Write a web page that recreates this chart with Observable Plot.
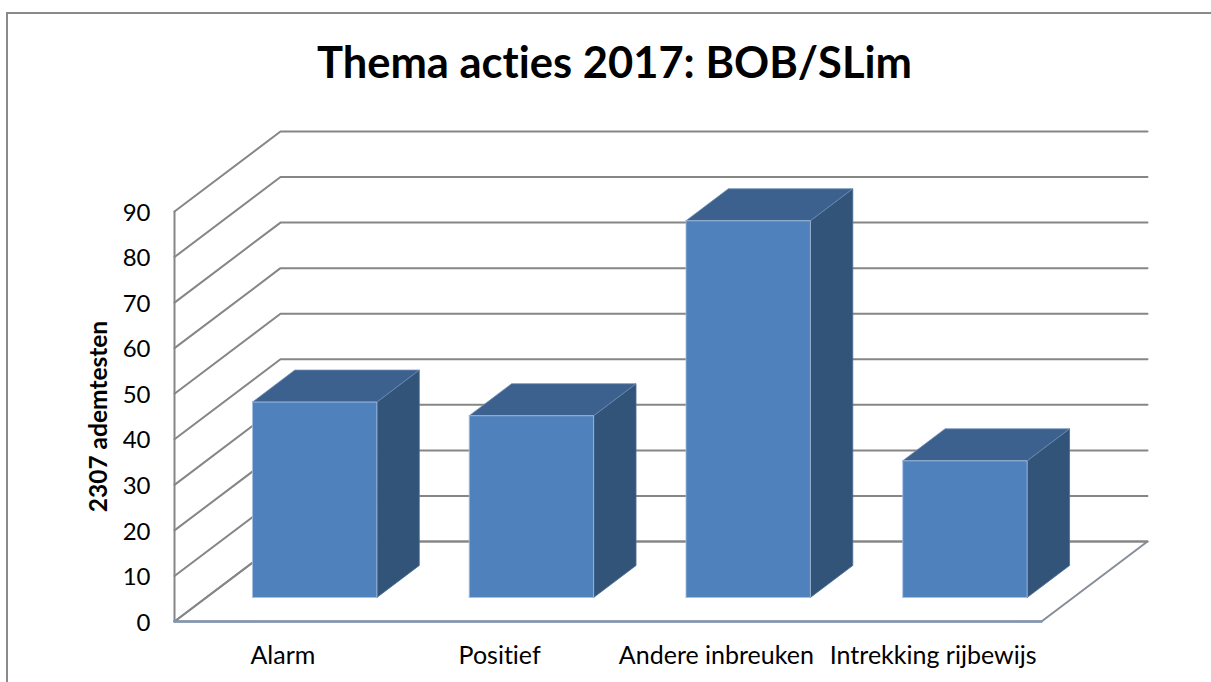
<!DOCTYPE html>
<html><head><meta charset="utf-8">
<script src="https://cdn.jsdelivr.net/npm/d3@7"></script>
<script src="https://cdn.jsdelivr.net/npm/@observablehq/plot@0.6"></script>
<style>
html,body{margin:0;padding:0;background:#fff;overflow:hidden;height:682px}
#frame{position:absolute;left:6px;top:12px;width:1205px;height:720px;border-left:2px solid #8a8a8a;border-top:2px solid #8a8a8a;box-sizing:border-box}
#chart{position:absolute;left:0;top:0;width:1211px}
h1{margin:0;height:100px;box-sizing:border-box;padding-top:31px;font:bold 43.5px/60px Lato,sans-serif;font-variant-ligatures:none;text-align:center;color:#000;padding-left:18px}
svg{display:block}
svg text{font-variant-ligatures:none}
</style></head><body>
<div id="frame"></div>
<div id="chart"></div>
<script>
const titleText = "Thema acties 2017: BOB/SLim";
const yLabel = "2307 ademtesten";
const categories = ["Alarm", "Positief", "Andere inbreuken", "Intrekking rijbewijs"];
const values = [42.9, 39.9, 82.7, 30];
const yTicks = [0, 10, 20, 30, 40, 50, 60, 70, 80, 90];

// oblique projection of the depth axis, in data units
const depthX = 0.489, depthY = 17.56;
const barHalf = 0.287, depthFront = 0.3, depthBack = 0.7;

const at = (x, y, d) => ({x: x + d * depthX, y: y + d * depthY});

const grid = yTicks.flatMap(v => [
  {id: v, ...at(0, v, 0)},
  {id: v, ...at(0, v, 1)},
  {id: v, ...at(categories.length, v, 1)}
]);
const wall = [at(0, 0, 0), at(0, 90, 0)];
const floor = [at(0, 0, 0), at(0, 0, 1), at(categories.length, 0, 1), at(categories.length, 0, 0), at(0, 0, 0)];

const face = (fn) => values.flatMap((v, i) => fn(i + 0.5 - barHalf, i + 0.5 + barHalf, v).map(p => ({id: categories[i], ...p})));
const fronts = face((l, r, v) => [at(l,0,depthFront), at(r,0,depthFront), at(r,v,depthFront), at(l,v,depthFront), at(l,0,depthFront)]);
const sides  = face((l, r, v) => [at(r,0,depthFront), at(r,0,depthBack), at(r,v,depthBack), at(r,v,depthFront), at(r,0,depthFront)]);
const tops   = face((l, r, v) => [at(l,v,depthFront), at(r,v,depthFront), at(r,v,depthBack), at(l,v,depthBack), at(l,v,depthFront)]);

const h = document.createElement("h1");
h.textContent = titleText;
const fontFamily = "Lato, sans-serif";
const plot = Plot.plot({
  width: 1211, height: 582,
  marginLeft: 174, marginRight: 64, marginTop: 31, marginBottom: 61,
  style: {fontFamily, background: "transparent", color: "#000", overflow: "visible"},
  x: {domain: [0, categories.length + depthX], axis: null},
  y: {domain: [0, 90 + depthY], axis: null},
  marks: [
    Plot.line(floor, {x: "x", y: "y", fill: "#fff", stroke: "#868e98", strokeWidth: 2}),
    Plot.line(grid, {x: "x", y: "y", z: "id", stroke: "#868686", strokeWidth: 2}),
    Plot.line(wall, {x: "x", y: "y", stroke: "#868686", strokeWidth: 2}),
    Plot.line([at(0,0,0), at(categories.length,0,0)], {x: "x", y: "y", stroke: "#8296b0", strokeWidth: 2.5}),
    Plot.line(sides, {x: "x", y: "y", z: "id", fill: "#325479", stroke: "#4a6d96", strokeWidth: 0.8}),
    Plot.line(tops, {x: "x", y: "y", z: "id", fill: "#3c618e", stroke: "#6d8db2", strokeWidth: 0.8}),
    Plot.line(fronts, {x: "x", y: "y", z: "id", fill: "#4f81bd", stroke: "#a9c2df", strokeWidth: 0.8}),
    Plot.axisY(yTicks, {tickSize: 0, tickPadding: 24, fontSize: 24, dy: 1.5, label: null, marginLeft: 174}),
    Plot.axisX(categories.map((_, i) => i + 0.5), {
      tickSize: 0, tickPadding: 25, fontSize: 25, label: null,
      tickFormat: d => categories[d - 0.5]
    }),
    Plot.text([yLabel], {
      text: d => d, y: () => 45, frameAnchor: "left", dx: -75, rotate: -90,
      textAnchor: "middle", fontWeight: "bold", fontSize: 24.5, fill: "#000"
    })
  ]
});
const c = document.getElementById("chart");
c.appendChild(h);
c.appendChild(plot);
</script>
</body></html>
